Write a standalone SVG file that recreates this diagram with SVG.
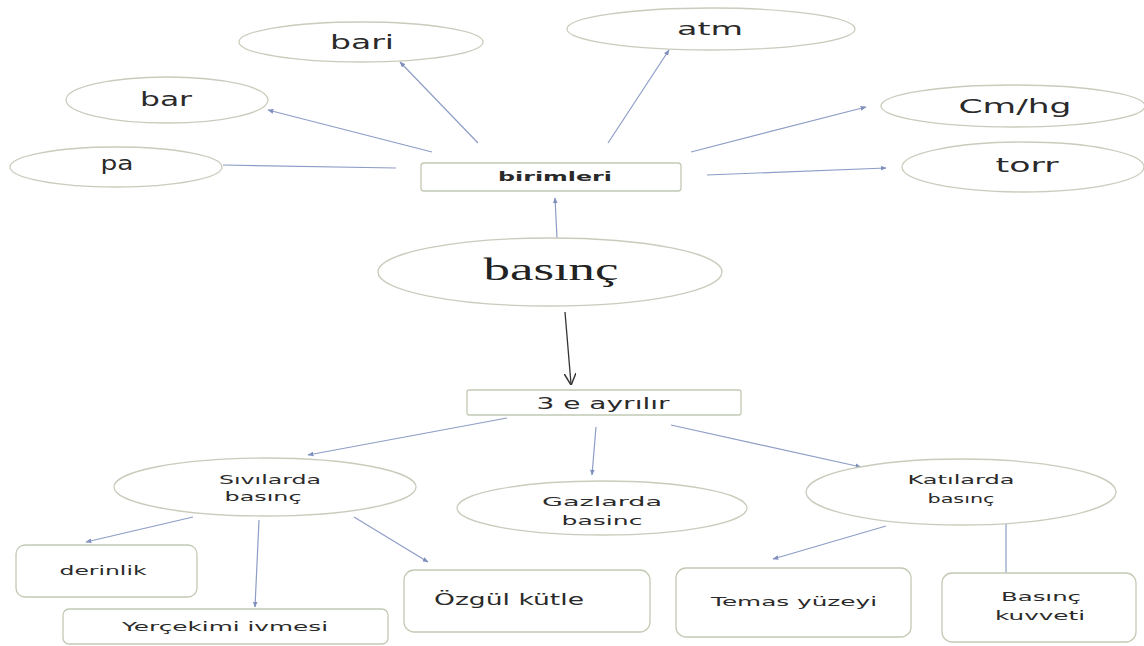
<svg xmlns="http://www.w3.org/2000/svg" width="1144" height="646" viewBox="0 0 1144 646">
<style>
.e{fill:#fff;stroke:#c9ccbc;stroke-width:1.3}
.r{fill:#fff;stroke:#c2cab4;stroke-width:1.3}
.t{font-family:"DejaVu Sans",Verdana,sans-serif;fill:#2a2a2a;text-anchor:middle}
.c{stroke:#8e9dc6;stroke-width:1.2;fill:none}
.k{stroke:#333;stroke-width:1.3;fill:none}
</style>
<defs>
<marker id="a" viewBox="0 0 10 10" refX="9" refY="5" markerWidth="6" markerHeight="6" orient="auto" markerUnits="userSpaceOnUse">
<path d="M0,1 L10,5 L0,9 Z" fill="#7f8fbd"/>
</marker>
<marker id="v" viewBox="0 0 10 10" refX="9" refY="5" markerWidth="12" markerHeight="12" orient="auto" markerUnits="userSpaceOnUse">
<path d="M0,0 L10,5 L0,10" fill="none" stroke="#333" stroke-width="1.2"/>
</marker>
</defs>
<rect width="1144" height="646" fill="#fff"/>
<g id="connectors">
<line class="c" x1="478" y1="143" x2="400" y2="62" marker-end="url(#a)"/>
<line class="c" x1="432" y1="152" x2="268" y2="110" marker-end="url(#a)"/>
<line class="c" x1="396" y1="168" x2="223" y2="165"/>
<line class="c" x1="608" y1="143" x2="669" y2="50" marker-end="url(#a)"/>
<line class="c" x1="691" y1="152" x2="866" y2="107" marker-end="url(#a)"/>
<line class="c" x1="707" y1="175" x2="886" y2="168" marker-end="url(#a)"/>
<line class="c" x1="557" y1="238" x2="555" y2="198" marker-end="url(#a)"/>
<line class="k" x1="565" y1="312" x2="571" y2="384" marker-end="url(#v)"/>
<line class="c" x1="507" y1="418" x2="308" y2="455" marker-end="url(#a)"/>
<line class="c" x1="596" y1="427" x2="592" y2="475" marker-end="url(#a)"/>
<line class="c" x1="671" y1="425" x2="861" y2="467" marker-end="url(#a)"/>
<line class="c" x1="193" y1="517" x2="86" y2="542" marker-end="url(#a)"/>
<line class="c" x1="259" y1="520" x2="255" y2="607" marker-end="url(#a)"/>
<line class="c" x1="354" y1="517" x2="428" y2="562" marker-end="url(#a)"/>
<line class="c" x1="886" y1="526" x2="773" y2="559" marker-end="url(#a)"/>
<line class="c" x1="1006" y1="523" x2="1006" y2="573"/>
</g>
<g id="bari"><ellipse class="e" cx="361" cy="42" rx="122" ry="20"/><text class="t" x="362" y="49" font-size="19" textLength="64" lengthAdjust="spacingAndGlyphs">bari</text></g>
<g id="bar"><ellipse class="e" cx="167" cy="100" rx="101" ry="23"/><text class="t" x="166" y="106" font-size="19" textLength="52" lengthAdjust="spacingAndGlyphs">bar</text></g>
<g id="pa"><ellipse class="e" cx="116" cy="167" rx="106" ry="20"/><text class="t" x="117" y="170" font-size="19" textLength="33" lengthAdjust="spacingAndGlyphs">pa</text></g>
<g id="atm"><ellipse class="e" cx="711" cy="29" rx="144" ry="21"/><text class="t" x="710" y="35" font-size="18" textLength="66" lengthAdjust="spacingAndGlyphs">atm</text></g>
<g id="cmhg"><ellipse class="e" cx="1013" cy="106" rx="132" ry="21"/><text class="t" x="1015" y="113" font-size="19" textLength="113" lengthAdjust="spacingAndGlyphs">Cm/hg</text></g>
<g id="torr"><ellipse class="e" cx="1023" cy="167" rx="121" ry="25"/><text class="t" x="1027" y="172" font-size="19" textLength="63" lengthAdjust="spacingAndGlyphs">torr</text></g>
<g id="birimleri"><rect class="r" x="421" y="163" width="260" height="28" rx="3"/><text class="t" x="555" y="181" font-size="13" font-weight="bold" textLength="114" lengthAdjust="spacingAndGlyphs">birimleri</text></g>
<g id="basinc"><ellipse class="e" cx="550" cy="272" rx="172" ry="34"/><text x="551" y="280" font-family="'Liberation Serif','Times New Roman',serif" font-size="32" fill="#222" text-anchor="middle" textLength="135" lengthAdjust="spacingAndGlyphs">basınç</text></g>
<g id="ayrilir"><rect class="r" x="467" y="390" width="274" height="25" rx="2"/><text class="t" x="603" y="409" font-size="15" textLength="133" lengthAdjust="spacingAndGlyphs">3 e ayrılır</text></g>
<g id="sivilarda"><ellipse class="e" cx="265" cy="487" rx="151" ry="29"/><text class="t" x="270" y="484" font-size="13" textLength="102" lengthAdjust="spacingAndGlyphs">Sıvılarda</text><text class="t" x="263" y="501" font-size="13" textLength="77" lengthAdjust="spacingAndGlyphs">basınç</text></g>
<g id="gazlarda"><ellipse class="e" cx="602" cy="508" rx="145" ry="27"/><text class="t" x="602" y="506" font-size="13" textLength="120" lengthAdjust="spacingAndGlyphs">Gazlarda</text><text class="t" x="602" y="525" font-size="13" textLength="81" lengthAdjust="spacingAndGlyphs">basinc</text></g>
<g id="katilarda"><ellipse class="e" cx="961" cy="492" rx="155" ry="33"/><text class="t" x="961" y="484" font-size="13" textLength="107" lengthAdjust="spacingAndGlyphs">Katılarda</text><text class="t" x="961" y="503" font-size="13" textLength="67" lengthAdjust="spacingAndGlyphs">basınç</text></g>
<g id="derinlik"><rect class="r" x="16" y="545" width="181" height="52" rx="9"/><text class="t" x="103" y="575" font-size="12" textLength="87" lengthAdjust="spacingAndGlyphs">derinlik</text></g>
<g id="yercekimi"><rect class="r" x="63" y="609" width="325" height="35" rx="6"/><text class="t" x="225" y="631" font-size="12" textLength="206" lengthAdjust="spacingAndGlyphs">Yerçekimi ivmesi</text></g>
<g id="ozgul"><rect class="r" x="404" y="570" width="246" height="62" rx="10"/><text class="t" x="509" y="605" font-size="15" textLength="150" lengthAdjust="spacingAndGlyphs">Özgül kütle</text></g>
<g id="temas"><rect class="r" x="676" y="568" width="235" height="69" rx="10"/><text class="t" x="794" y="606" font-size="13" textLength="166" lengthAdjust="spacingAndGlyphs">Temas yüzeyi</text></g>
<g id="kuvvet"><rect class="r" x="942" y="573" width="194" height="69" rx="10"/><text class="t" x="1041" y="601" font-size="12" textLength="80" lengthAdjust="spacingAndGlyphs">Basınç</text><text class="t" x="1040" y="620" font-size="12" textLength="90" lengthAdjust="spacingAndGlyphs">kuvveti</text></g>
</svg>
